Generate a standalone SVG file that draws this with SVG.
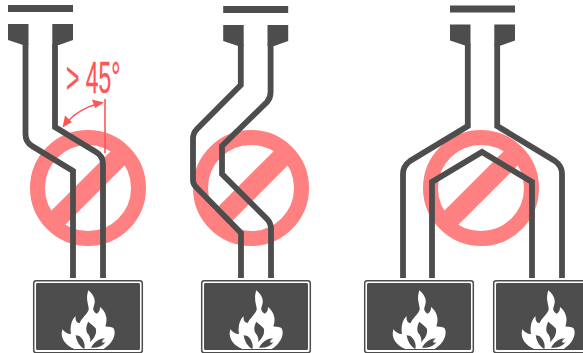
<svg xmlns="http://www.w3.org/2000/svg" width="583" height="353" viewBox="0 0 583 353">
<style>
.dark{fill:#4d4d4d}
.pipe{fill:none;stroke:#4d4d4d;stroke-width:5.8;stroke-linejoin:miter}
.ring{fill:none;stroke:#ff8080;stroke-width:15}
.bar{fill:none;stroke:#ff8080;stroke-width:20}
.boxo{fill:none;stroke:#4d4d4d;stroke-width:1.5}
.flame{fill:#fff;fill-rule:evenodd}
.red{fill:none;stroke:#ff5555;stroke-width:1.6}
.redf{fill:#ff5555}
</style>
<defs>
<g id="prohibit"><circle r="50.5" class="ring"/><path d="M-36 36L36-36" class="bar"/></g>
<g id="terminal">
<path class="dark" d="M0 0H65V7H0ZM0 19H20.5V40H15L0 35ZM44.3 19H65V35L51 40H44.3Z"/>
</g>
<g id="load">
<rect x="0.7" y="0.7" width="108.6" height="72" rx="2.5" class="boxo"/>
<rect x="3" y="3" width="104" height="67" rx="1.5" class="dark"/>
<path class="flame" transform="translate(22 5) scale(.3333)" d="M100 16C122 35 122 50 116 65C112 75 118 82 125 86C133 83 135 75 135 66C152 80 160 100 151 124C160 127 172 124 177 132C184 150 172 176 146 192H58C32 182 14 160 22 133C30 143 40 148 48 147C44 124 50 104 62 93C60 106 65 114 74 114C80 100 96 88 101 75C103 62 90 45 100 16ZM100 110C92 125 92 140 100 148C105 155 108 165 105 172C118 160 127 145 122 130C116 122 108 118 100 110ZM150 160C135 160 120 168 108 188C125 190 140 185 152 172C142 175 135 172 150 160ZM62 150C65 170 75 185 88 192C92 180 85 160 72 152C69 153 65 152 62 150Z"/>
</g>
</defs>

<g id="prohibit-1"><use href="#prohibit" x="88" y="188"/></g>
<g id="prohibit-2"><use href="#prohibit" x="251" y="188"/></g>
<g id="prohibit-3"><use href="#prohibit" x="481" y="188"/></g>

<g id="terminal-1"><use href="#terminal" x="8" y="5"/></g>
<g id="terminal-2"><use href="#terminal" x="223.2" y="6"/></g>
<g id="terminal-3"><use href="#terminal" x="450" y="5.5"/></g>

<g id="connectors">
<path class="pipe" d="M25.500 44V134Q25.500 142 32 146L73 171V278"/>
<path class="pipe" d="M55 44V127L96 152Q103 156 103 164V278"/>
<path class="pipe" d="M240.800 44V85L197 129Q193 133 193 139V180Q193 184 196 187L241 233V278"/>
<path class="pipe" d="M270.600 44V92Q270.600 98 267 102L222 146V174L267 219Q271 223 271 229V278"/>
<path class="pipe" d="M467.800 44V126L410 161Q403 166 403 174V278"/>
<path class="pipe" d="M497.200 44V126L555 161Q562 166 562 174V278"/>
<path class="pipe" d="M432 278V182L482 152L532 182V278"/>
</g>

<g id="load-1"><use href="#load" x="33" y="280"/></g>
<g id="load-2"><use href="#load" x="201" y="280"/></g>
<g id="load-3"><use href="#load" x="364" y="280"/></g>
<g id="load-4"><use href="#load" x="493" y="280"/></g>

<g id="angle">
<path class="red" d="M105 99V153"/>
<path class="red" d="M67 122Q79 109 97 104"/>
<path class="redf" d="M62.500 127.500L65 115.500L72 122ZM104 102.500L92 99.500L95 108Z"/>
<text transform="translate(66 92.500) scale(.52 1)" font-family="Liberation Sans, sans-serif" font-size="44" fill="#ff5555" stroke="#ff5555" stroke-width=".3">&gt; 45°</text>
</g>
</svg>
